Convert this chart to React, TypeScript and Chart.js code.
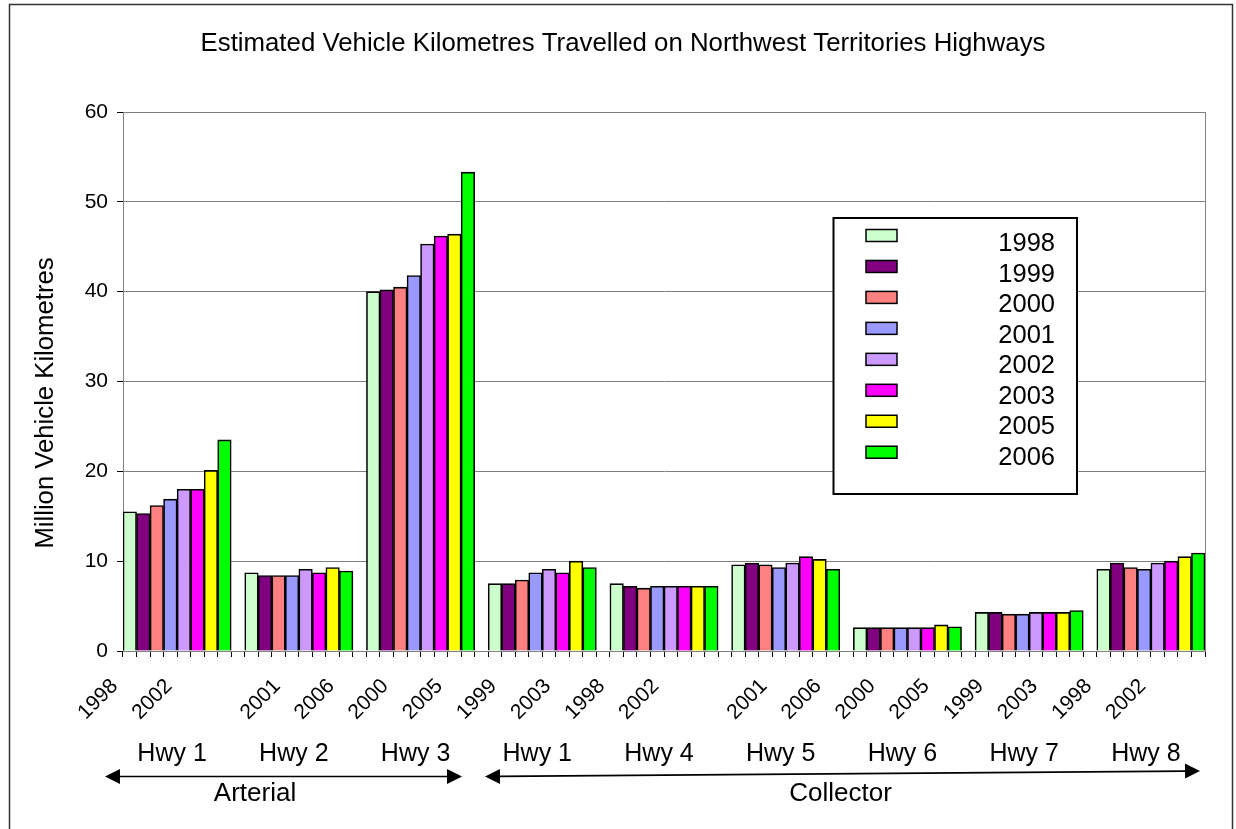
import { useEffect, useRef } from 'react';
import { Chart, registerables } from 'chart.js';

Chart.register(...registerables);

const years = ['1998', '1999', '2000', '2001', '2002', '2003', '2005', '2006'];
const yearColors = ['#CCFFCC', '#800080', '#FF8080', '#9999FF', '#CC99FF', '#FF00FF', '#FFFF00', '#00FF00'];
const highways = ['Hwy 1', 'Hwy 2', 'Hwy 3', 'Hwy 1', 'Hwy 4', 'Hwy 5', 'Hwy 6', 'Hwy 7', 'Hwy 8'];

const hwy1Arterial = [15.5, 15.3, 16.2, 16.9, 18.0, 18.0, 20.1, 23.5];
const hwy2Arterial = [8.7, 8.4, 8.4, 8.4, 9.1, 8.7, 9.3, 8.9];
const hwy3Arterial = [40.0, 40.2, 40.5, 41.8, 45.3, 46.2, 46.4, 53.3];
const hwy1Collector = [7.5, 7.5, 7.9, 8.7, 9.1, 8.7, 10.0, 9.3];
const hwy4Collector = [7.5, 7.2, 7.0, 7.2, 7.2, 7.2, 7.2, 7.2];
const hwy5Collector = [9.6, 9.8, 9.6, 9.3, 9.8, 10.5, 10.2, 9.1];
const hwy6Collector = [2.6, 2.6, 2.6, 2.6, 2.6, 2.6, 2.9, 2.7];
const hwy7Collector = [4.3, 4.3, 4.1, 4.1, 4.3, 4.3, 4.3, 4.5];
const hwy8Collector = [9.1, 9.8, 9.3, 9.1, 9.8, 10.0, 10.5, 10.9];

const yTicks = [0, 10, 20, 30, 40, 50, 60];

const TITLE = 'Estimated Vehicle Kilometres Travelled on Northwest Territories Highways';
const Y_TITLE = 'Million Vehicle Kilometres';
const ARTERIAL = 'Arterial';
const COLLECTOR = 'Collector';

const FONT = '"Liberation Sans", Arial, sans-serif';

const groupSeries = [
  hwy1Arterial, hwy2Arterial, hwy3Arterial,
  hwy1Collector, hwy4Collector, hwy5Collector, hwy6Collector, hwy7Collector, hwy8Collector,
];

// Build flat category list: 8 years per group, plus one empty gap between groups
const labels: string[] = [];
const values: (number | null)[] = [];
const colors: string[] = [];
const groupStart: number[] = [];
groupSeries.forEach((series, g) => {
  groupStart.push(labels.length);
  series.forEach((v, i) => {
    labels.push(years[i]);
    values.push(v);
    colors.push(yearColors[i]);
  });
  if (g < groupSeries.length - 1) {
    labels.push('');
    values.push(null);
    colors.push('#ffffff');
  }
});

function arrow(ctx: CanvasRenderingContext2D, x1: number, y1: number, x2: number, y2: number, head1: boolean, head2: boolean) {
  const L = 15, W = 7.5;
  const ang = Math.atan2(y2 - y1, x2 - x1);
  const cos = Math.cos(ang), sin = Math.sin(ang);
  ctx.save();
  ctx.strokeStyle = '#000';
  ctx.fillStyle = '#000';
  ctx.lineWidth = 1.6;
  ctx.beginPath();
  ctx.moveTo(x1 + (head1 ? L * cos : 0), y1 + (head1 ? L * sin : 0));
  ctx.lineTo(x2 - (head2 ? L * cos : 0), y2 - (head2 ? L * sin : 0));
  ctx.stroke();
  const drawHead = (tx: number, ty: number, dir: number) => {
    const bx = tx - dir * L * cos, by = ty - dir * L * sin;
    ctx.beginPath();
    ctx.moveTo(tx, ty);
    ctx.lineTo(bx - W * sin, by + W * cos);
    ctx.lineTo(bx + W * sin, by - W * cos);
    ctx.closePath();
    ctx.fill();
  };
  if (head1) drawHead(x1, y1, -1);
  if (head2) drawHead(x2, y2, 1);
  ctx.restore();
}

const decorPlugin = {
  id: 'decor',
  beforeDatasetsDraw(chart: any) {
    const { ctx, chartArea } = chart;
    ctx.save();
    ctx.strokeStyle = '#808080';
    ctx.lineWidth = 1;
    ctx.strokeRect(chartArea.left + 0.5, chartArea.top + 0.5, chartArea.right - chartArea.left, chartArea.bottom - chartArea.top);
    ctx.restore();
  },
  afterDraw(chart: any) {
    const { ctx, chartArea } = chart;
    const xs = chart.scales.x;
    ctx.save();

    // outer frame
    ctx.strokeStyle = '#333';
    ctx.lineWidth = 1.5;
    ctx.strokeRect(9.5, 4.5, 1223, 900);

    // title
    ctx.fillStyle = '#000';
    ctx.font = `25.8px ${FONT}`;
    ctx.textAlign = 'center';
    ctx.textBaseline = 'middle';
    ctx.fillText(TITLE, 623, 44);

    // y title
    ctx.save();
    ctx.translate(45.5, 403);
    ctx.rotate(-Math.PI / 2);
    ctx.font = `25.7px ${FONT}`;
    ctx.fillText(Y_TITLE, 0, 0);
    ctx.restore();

    // x tick labels (every 4th category)
    ctx.font = `21px ${FONT}`;
    labels.forEach((lab, i) => {
      if (i % 4 !== 0 || !lab) return;
      const px = xs.getPixelForValue(i);
      ctx.save();
      ctx.translate(px - 15, chartArea.bottom + 32);
      ctx.rotate(-Math.PI / 4);
      ctx.textAlign = 'right';
      ctx.textBaseline = 'middle';
      ctx.fillText(lab, 0, 0);
      ctx.restore();
    });

    // highway group labels
    ctx.font = `25px ${FONT}`;
    ctx.textAlign = 'center';
    ctx.textBaseline = 'middle';
    highways.forEach((h, g) => {
      const c = (xs.getPixelForValue(groupStart[g]) + xs.getPixelForValue(groupStart[g] + 7)) / 2;
      ctx.fillText(h, c - 5, 754);
    });

    // arrows
    arrow(ctx, 105, 776.5, 462, 776.5, true, true);
    arrow(ctx, 485, 776.5, 1200, 771, true, true);
    ctx.font = `26px ${FONT}`;
    ctx.fillText(ARTERIAL, 255, 794);
    ctx.fillText(COLLECTOR, 840.5, 794);

    // legend
    const lx = 833.5, ly = 218, lw = 243.5, lh = 276;
    ctx.fillStyle = '#fff';
    ctx.fillRect(lx, ly, lw, lh);
    ctx.strokeStyle = '#000';
    ctx.lineWidth = 2;
    ctx.strokeRect(lx, ly, lw, lh);
    ctx.font = `25.5px ${FONT}`;
    ctx.textAlign = 'right';
    years.forEach((y, i) => {
      const sy = 229.5 + 30.96 * i;
      ctx.fillStyle = yearColors[i];
      ctx.fillRect(866, sy, 31, 12);
      ctx.strokeStyle = '#000';
      ctx.lineWidth = 1.5;
      ctx.strokeRect(866, sy, 31, 12);
      ctx.fillStyle = '#000';
      ctx.fillText(y, 1055, 244 + 30.57 * i);
    });

    ctx.restore();
  },
};

export default function App() {
  const ref = useRef<HTMLCanvasElement>(null);
  useEffect(() => {
    if (!ref.current) return;
    const chart = new Chart(ref.current, {
      type: 'bar',
      data: {
        labels,
        datasets: [
          {
            data: values as any,
            backgroundColor: colors,
            borderColor: '#000',
            borderWidth: 1.6,
            barPercentage: 1,
            categoryPercentage: 1,
          },
        ],
      },
      options: {
        responsive: false,
        animation: false,
        devicePixelRatio: 1,
        layout: { padding: { top: 112, right: 31, left: 0, bottom: 0 } },
        plugins: {
          legend: { display: false },
          title: { display: false },
          tooltip: { enabled: false },
        },
        scales: {
          x: {
            afterFit: (s: any) => { s.height = 178; },
            grid: { display: true, drawOnChartArea: false, drawTicks: true, tickLength: 6, tickColor: '#000', offset: true },
            border: { display: true, color: '#000', width: 1 },
            ticks: { display: false, autoSkip: false },
          },
          y: {
            min: 0,
            max: 60,
            afterFit: (s: any) => { s.width = 123; },
            afterBuildTicks: (s: any) => { s.ticks = yTicks.map((v) => ({ value: v })); },
            grid: { color: '#808080', lineWidth: 1, tickLength: 6, tickColor: '#000' },
            border: { display: true, color: '#000', width: 1 },
            ticks: { color: '#000', padding: 9, font: { family: FONT, size: 21 } },
          },
        },
      },
      plugins: [decorPlugin],
    });
    return () => chart.destroy();
  }, []);
  return (
    <div style={{ position: 'absolute', left: 0, top: 0, width: 1236, height: 829, background: '#fff' }}>
      <canvas ref={ref} width={1236} height={829} style={{ width: 1236, height: 829, display: 'block' }} />
    </div>
  );
}
